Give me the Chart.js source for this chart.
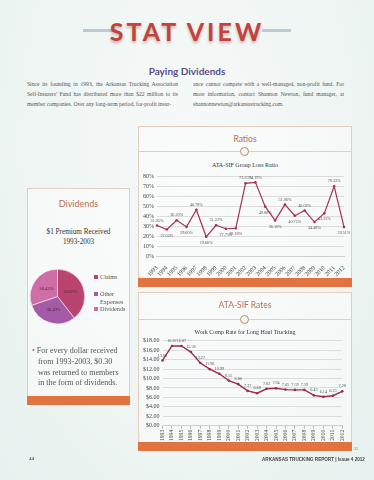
<!DOCTYPE html>
<html lang="en">
<head>
  <meta charset="UTF-8">
  <title>Stat View - Paying Dividends</title>
  <script src="https://cdn.jsdelivr.net/npm/chart.js"></script>
  <style>
    html, body {
      margin: 0;
      padding: 0;
    }
    body {
      width: 374px;
      height: 480px;
      position: relative;
      overflow: hidden;
      background: radial-gradient(ellipse at 50% 30%, #f6f9f8 0%, #eef5f3 60%, #e8f1ef 100%);
      font-family: "Liberation Serif", "DejaVu Serif", serif;
      color: #444;
    }
    .abs { position: absolute; }
    .rule {
      position: absolute;
      top: 29px;
      height: 3px;
      background: #bccbd3;
    }
    #title {
      left: 0; width: 374px; top: 16px;
      text-align: center;
      font-family: Lato, "Open Sans", sans-serif;
      font-weight: 700;
      font-size: 25px;
      letter-spacing: 3px;
      color: #c0443b;
      text-shadow: 0 2px 3px rgba(120, 40, 30, 0.35);
    }
    #subtitle {
      left: 0; width: 374px; top: 65px;
      text-align: center;
      font-family: Lato, "Open Sans", sans-serif;
      font-weight: 700;
      font-size: 10px;
      color: #5b4e8c;
    }
    .col {
      top: 79px;
      width: 151px;
      font-size: 5.6px;
      line-height: 10px;
      color: #555;
      text-align: justify;
      text-align-last: left;
    }
    .box {
      position: absolute;
      border: 1px solid #e3cdbf;
      background: rgba(255, 255, 255, 0.45);
      box-sizing: border-box;
    }
    .bar {
      position: absolute;
      height: 9px;
      background: #e0733f;
    }
    .head {
      position: absolute;
      text-align: center;
      font-family: Lato, "Open Sans", sans-serif;
      font-size: 8.5px;
      color: #b8704f;
    }
    .hline {
      position: absolute;
      height: 1px;
      background: #e3cdbf;
    }
    .ring {
      position: absolute;
      width: 7px; height: 7px;
      border: 1px solid #c98560;
      border-radius: 50%;
      background: #f7f9f8;
    }
    .ctitle {
      position: absolute;
      text-align: center;
      font-size: 6px;
      color: #333;
    }
    .legend {
      position: absolute;
      left: 94px;
      font-size: 6.2px;
      line-height: 7.5px;
      color: #555;
    }
    .legend span.sw {
      display: inline-block;
      width: 4px; height: 4px;
      margin-right: 2px;
    }
    #bullet {
      left: 32px; top: 346px; width: 100px;
      font-size: 8px;
      line-height: 10.8px;
      color: #555;
      white-space: nowrap;
    }
  </style>
</head>
<body>
  <div class="rule" style="left:83px;width:34px"></div>
  <div class="rule" style="left:262px;width:29px"></div>
  <div id="title" class="abs">STAT VIEW</div>
  <div id="subtitle" class="abs">Paying Dividends</div>

  <div class="abs col" style="left:27px">
    Since its founding in 1993, the Arkansas Trucking Association Self-Insurers' Fund has distributed more than $22 million to its member companies. Over any long-term period, for-profit insur-
  </div>
  <div class="abs col" style="left:193px">
    ance cannot compete with a well-managed, non-profit fund. For more information, contact Shannon Newton, fund manager, at shannonnewton@arkansastrucking.com.
  </div>

  <!-- Ratios box -->
  <div class="box" style="left:138px;top:126px;width:214px;height:161px"></div>
  <div class="head" style="left:138px;top:134px;width:214px">Ratios</div>
  <div class="hline" style="left:139px;top:151px;width:212px"></div>
  <div class="ring" style="left:240px;top:147px"></div>
  <div class="ctitle" style="left:138px;top:162px;width:214px">ATA-SIF Group Loss Ratio</div>
  <div class="abs" style="left:140px;top:170px;width:210px;height:108px">
    <canvas id="lossChart" width="210" height="108"></canvas>
  </div>
  <div class="bar" style="left:138px;top:278px;width:214px"></div>

  <!-- Dividends box -->
  <div class="box" style="left:27px;top:188px;width:103px;height:216px"></div>
  <div class="head" style="left:27px;top:198px;width:103px;font-size:9px">Dividends</div>
  <div class="ctitle" style="left:27px;top:228px;width:103px;font-size:7.2px;line-height:9.5px;color:#333">$1 Premium Received<br>1993-2003</div>
  <div class="abs" style="left:29px;top:268px;width:57px;height:57px">
    <canvas id="pieChart" width="57" height="57"></canvas>
  </div>
  <div class="legend" id="pieLegend" style="top:273px"></div>
  <div id="bullet" class="abs"><span style="color:#b8704f">&bull;</span> For every dollar received<br>&nbsp;&nbsp; from 1993-2003, $0.30<br>&nbsp;&nbsp; was returned to members<br>&nbsp;&nbsp; in the form of dividends.</div>
  <div class="bar" style="left:27px;top:396px;width:103px"></div>

  <!-- Rates box -->
  <div class="box" style="left:138px;top:292px;width:214px;height:159px"></div>
  <div class="head" style="left:138px;top:300px;width:214px">ATA-SIF Rates</div>
  <div class="hline" style="left:139px;top:319px;width:212px"></div>
  <div class="ring" style="left:240px;top:315px"></div>
  <div class="ctitle" style="left:138px;top:329px;width:214px">Work Comp Rate for Long Haul Trucking</div>
  <div class="abs" style="left:140px;top:334px;width:210px;height:108px">
    <canvas id="rateChart" width="210" height="108"></canvas>
  </div>
  <div class="bar" style="left:138px;top:442px;width:214px"></div>

  <div class="abs" style="left:29px;top:456px;font-size:5px;font-weight:bold;color:#555">44</div>
  <div class="abs" style="left:354px;top:446px;font-size:4px;color:#777">35</div>
  <div class="abs" style="left:262px;top:457px;font-size:4.6px;font-weight:bold;font-family:'Liberation Sans',sans-serif;color:#444">ARKANSAS TRUCKING REPORT | Issue 4 2012</div>

  <script>
    const years = ['1993', '1994', '1995', '1996', '1997', '1998', '1999', '2000', '2001', '2002',
                   '2003', '2004', '2005', '2006', '2007', '2008', '2009', '2010', '2011', '2012'];
    const lossRatio = [31.05, 27.02, 36.20, 29.60, 46.78, 19.66, 31.22, 27.75, 28.18, 73.25,
                       74.19, 49.88, 36.10, 51.96, 40.75, 46.02, 34.48, 43.15, 70.33, 29.51];
    const lossTicks = [0, 10, 20, 30, 40, 50, 60, 70, 80];
    const workCompRate = [13.80, 16.87, 16.87, 15.58, 13.27, 11.96, 10.99, 9.55, 8.80, 7.37,
                          6.88, 7.82, 7.94, 7.65, 7.59, 7.59, 6.43, 6.14, 6.35, 7.28];
    const rateTicks = [0, 2, 4, 6, 8, 10, 12, 14, 16, 18];
    const pieLabels = ['Claims', 'Other Expenses', 'Dividends'];
    const pieValues = [39.69, 30.49, 30.42];

    const serif = '"Liberation Serif", "DejaVu Serif", serif';
    const lineColor = '#a3325f';
    const pieColors = ['#b8446f', '#a45aa6', '#cd6ea7'];

    // small labels next to each point / slice
    const valueLabels = {
      id: 'valueLabels',
      afterDatasetsDraw(chart, args, opts) {
        if (!opts.format) return;
        const ctx = chart.ctx;
        const meta = chart.getDatasetMeta(0);
        const data = chart.data.datasets[0].data;
        ctx.save();
        ctx.font = (opts.size || 5) + 'px ' + serif;
        ctx.fillStyle = opts.color || '#444';
        ctx.textAlign = 'center';
        ctx.textBaseline = 'middle';
        meta.data.forEach((el, i) => {
          const txt = opts.format(data[i]);
          let x, y;
          if (chart.config.type === 'pie') {
            const p = el.tooltipPosition();
            x = p.x; y = p.y;
          } else {
            const up = opts.above ? opts.above(data, i) : true;
            x = el.x; y = el.y + (up ? -5 : 6);
          }
          ctx.fillText(txt, x, y);
        });
        ctx.restore();
      }
    };
    Chart.register(valueLabels);

    function aboveNeighbours(data, i) {
      const n = [];
      if (i > 0) n.push(data[i - 1]);
      if (i < data.length - 1) n.push(data[i + 1]);
      const avg = n.reduce((a, b) => a + b, 0) / n.length;
      return data[i] >= avg;
    }

    new Chart(document.getElementById('lossChart'), {
      type: 'line',
      data: {
        labels: years,
        datasets: [{
          data: lossRatio,
          borderColor: lineColor,
          borderWidth: 1.2,
          pointRadius: 1.3,
          pointBackgroundColor: lineColor,
          pointBorderWidth: 0,
          tension: 0
        }]
      },
      options: {
        responsive: false,
        animation: false,
        devicePixelRatio: 1,
        layout: { padding: { top: 3, right: 6, left: 0, bottom: 0 } },
        plugins: {
          legend: { display: false },
          tooltip: { enabled: false },
          valueLabels: {
            size: 4.2,
            color: '#555',
            format: v => v.toFixed(2) + '%',
            above: aboveNeighbours
          }
        },
        scales: {
          y: {
            min: 0, max: 80,
            afterBuildTicks: axis => { axis.ticks = lossTicks.map(v => ({ value: v })); },
            ticks: {
              callback: v => v + '%',
              font: { family: serif, size: 6 },
              color: '#444',
              padding: 3,
              autoSkip: false
            },
            grid: { color: '#dcdcdc', drawTicks: false },
            border: { display: false }
          },
          x: {
            ticks: {
              minRotation: 45, maxRotation: 45,
              font: { family: serif, size: 6 },
              color: '#444',
              padding: 0,
              autoSkip: false
            },
            grid: { display: false },
            border: { color: '#cfcfcf' }
          }
        }
      }
    });

    new Chart(document.getElementById('rateChart'), {
      type: 'line',
      data: {
        labels: years,
        datasets: [{
          data: workCompRate,
          borderColor: '#9a2c55',
          borderWidth: 1.4,
          pointRadius: 1.3,
          pointBackgroundColor: '#9a2c55',
          pointBorderWidth: 0,
          tension: 0
        }]
      },
      options: {
        responsive: false,
        animation: false,
        devicePixelRatio: 1,
        layout: { padding: { top: 3, right: 5, left: 0, bottom: 0 } },
        plugins: {
          legend: { display: false },
          tooltip: { enabled: false },
          valueLabels: {
            size: 4.2,
            color: '#555',
            format: v => v.toFixed(2),
            above: () => true
          }
        },
        scales: {
          y: {
            min: 0, max: 18,
            afterBuildTicks: axis => { axis.ticks = rateTicks.map(v => ({ value: v })); },
            ticks: {
              callback: v => '$' + v.toFixed(2),
              font: { family: serif, size: 6 },
              color: '#444',
              padding: 3,
              autoSkip: false
            },
            grid: { color: '#dcdcdc', drawTicks: false },
            border: { display: false }
          },
          x: {
            ticks: {
              minRotation: 90, maxRotation: 90,
              font: { family: serif, size: 5.6 },
              color: '#444',
              padding: 1,
              autoSkip: false
            },
            grid: { drawOnChartArea: false, tickLength: 3, color: '#bbb' },
            border: { color: '#cfcfcf' }
          }
        }
      }
    });

    new Chart(document.getElementById('pieChart'), {
      type: 'pie',
      data: {
        labels: pieLabels,
        datasets: [{
          data: pieValues,
          backgroundColor: pieColors,
          borderColor: '#ffffff',
          borderWidth: 0.5
        }]
      },
      options: {
        responsive: false,
        animation: false,
        devicePixelRatio: 1,
        layout: { padding: 1 },
        plugins: {
          legend: { display: false },
          tooltip: { enabled: false },
          valueLabels: {
            size: 4.6,
            color: '#4a2a3a',
            format: v => v.toFixed(2) + '%'
          }
        }
      }
    });

    // html legend so "Other Expenses" wraps like the original
    const legendHtml = [
      ['Claims'], ['Other', 'Expenses'], ['Dividends']
    ];
    const legendTops = [0, 17, 32];
    const leg = document.getElementById('pieLegend');
    pieLabels.forEach((name, i) => {
      const d = document.createElement('div');
      d.style.position = 'absolute';
      d.style.top = legendTops[i] + 'px';
      d.style.whiteSpace = 'nowrap';
      const parts = legendHtml[i];
      d.innerHTML = '<span class="sw" style="background:' + pieColors[i] + '"></span>' + parts[0] +
        (parts[1] ? '<br><span style="padding-left:6px">' + parts[1] + '</span>' : '');
      leg.appendChild(d);
    });
  </script>
</body>
</html>
